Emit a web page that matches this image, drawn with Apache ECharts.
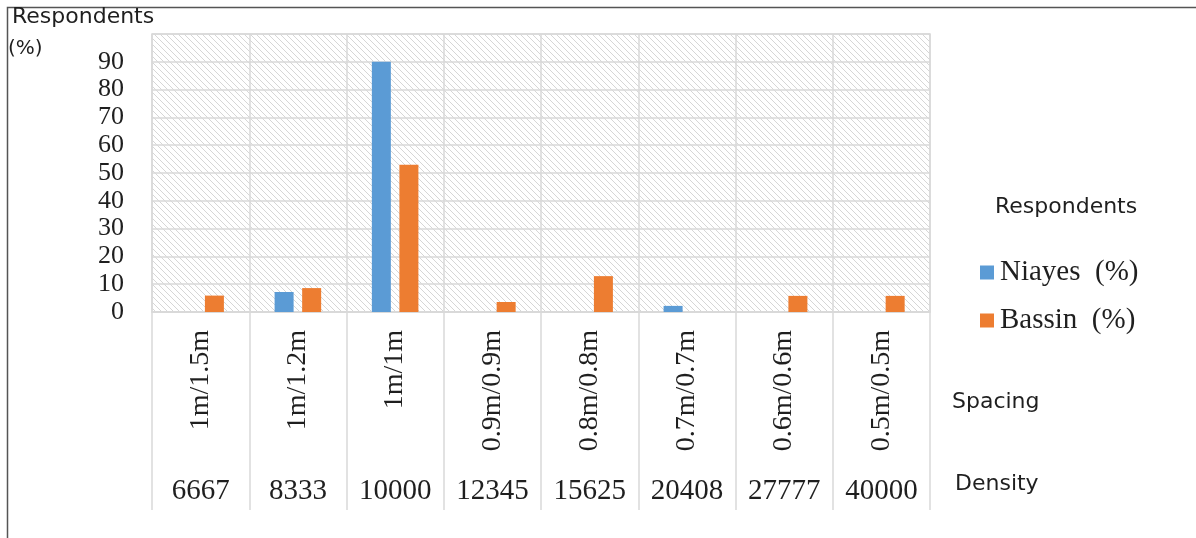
<!DOCTYPE html>
<html>
<head>
<meta charset="utf-8">
<script src="https://cdn.jsdelivr.net/npm/echarts@6/dist/echarts.min.js"></script>
<style>
  html, body { margin: 0; padding: 0; background: #fff; }
  #chart { width: 1196px; height: 538px; }
</style>
</head>
<body>
<div id="chart"></div>
<script>
// Plant spacing, planting density and share of respondents per zone
const spacing = ['1m/1.5m', '1m/1.2m', '1m/1m', '0.9m/0.9m', '0.8m/0.8m', '0.7m/0.7m', '0.6m/0.6m', '0.5m/0.5m'];
const density = ['6667', '8333', '10000', '12345', '15625', '20408', '27777', '40000'];
const niayes = [0, 7.2, 90, 0, 0, 2.2, 0, 0];
const bassin = [5.9, 8.6, 53, 3.6, 12.9, 0, 5.8, 5.8];
const seriesNames = ['Niayes (%)', 'Bassin (%)'];
const yTicks = { min: 0, max: 100, interval: 10 };

// Diagonal hatch fill for the plot background
function hatch() {
  const p = 6;
  const c = document.createElement('canvas');
  c.width = p; c.height = p;
  const g = c.getContext('2d');
  g.strokeStyle = '#d6d6d6';
  g.lineWidth = 1;
  g.beginPath();
  g.moveTo(-1, -1); g.lineTo(p + 1, p + 1);
  g.moveTo(-1, p - 1); g.lineTo(1, p + 1);
  g.moveTo(p - 1, -1); g.lineTo(p + 1, 1);
  g.stroke();
  return c;
}

const grey = '#d9d9d9';
const ink = '#1f1f1f';
const serif = '"Liberation Serif", "Times New Roman", serif';
const sans = '"DejaVu Sans", "Open Sans", sans-serif';

const chart = echarts.init(document.getElementById('chart'), null, { renderer: 'canvas' });
chart.setOption({
  animation: false,
  backgroundColor: '#fff',
  grid: {
    left: 152, right: 266, top: 34, bottom: 226,
    show: true,
    backgroundColor: { image: hatch(), repeat: 'repeat' },
    borderColor: grey, borderWidth: 1.5
  },
  legend: {
    orient: 'vertical',
    left: 975, top: 253,
    itemWidth: 14, itemHeight: 14, itemGap: 19,
    icon: 'rect',
    data: seriesNames,
    formatter: name => name.replace(' ', '\u2002'),
    textStyle: { fontFamily: serif, fontSize: 29, color: ink, padding: [0, 0, 0, 1] }
  },
  xAxis: [
    {
      type: 'category',
      data: spacing,
      position: 'bottom',
      axisLine: { show: true, lineStyle: { color: grey, width: 1.5 } },
      axisTick: { show: true, length: 198, interval: 0, lineStyle: { color: grey, width: 1.5 } },
      splitLine: { show: true, interval: 0, lineStyle: { color: grey, width: 1.5 } },
      axisLabel: { rotate: 90, margin: 18, interval: 0, fontFamily: serif, fontSize: 28, color: ink }
    },
    {
      type: 'category',
      data: density,
      position: 'bottom',
      offset: 150,
      axisLine: { show: false },
      axisTick: { show: false },
      axisLabel: { margin: 15, interval: 0, fontFamily: serif, fontSize: 29, color: ink }
    }
  ],
  yAxis: {
    type: 'value',
    min: yTicks.min, max: yTicks.max, interval: yTicks.interval,
    axisLine: { show: false },
    axisTick: { show: false },
    splitLine: { show: true, lineStyle: { color: grey, width: 1.5 } },
    axisLabel: {
      margin: 28, fontFamily: serif, fontSize: 26, color: ink,
      formatter: v => (v >= yTicks.max ? '' : String(v))
    }
  },
  series: [
    { name: seriesNames[0], type: 'bar', xAxisIndex: 0, data: niayes, barWidth: 19, barGap: '45%', itemStyle: { color: '#5b9bd5' } },
    { name: seriesNames[1], type: 'bar', xAxisIndex: 0, data: bassin, barWidth: 19, barGap: '45%', itemStyle: { color: '#ed7d31' } }
  ],
  graphic: [
    { type: 'rect', silent: true, shape: { x: 7.5, y: 7.5, width: 1400, height: 700 }, style: { fill: 'none', stroke: '#555', lineWidth: 1.5 } },
    { type: 'text', left: 12, top: 6, style: { text: 'Respondents', font: '22px ' + sans, fill: ink } },
    { type: 'text', left: 8, top: 39, style: { text: '(%)', font: '20px ' + sans, fill: ink } },
    { type: 'text', left: 995, top: 196, style: { text: 'Respondents', font: '22px ' + sans, fill: ink } },
    { type: 'text', left: 952, top: 391, style: { text: 'Spacing', font: '22px ' + sans, fill: ink } },
    { type: 'text', left: 955, top: 473, style: { text: 'Density', font: '22px ' + sans, fill: ink } }
  ]
});
</script>
</body>
</html>
